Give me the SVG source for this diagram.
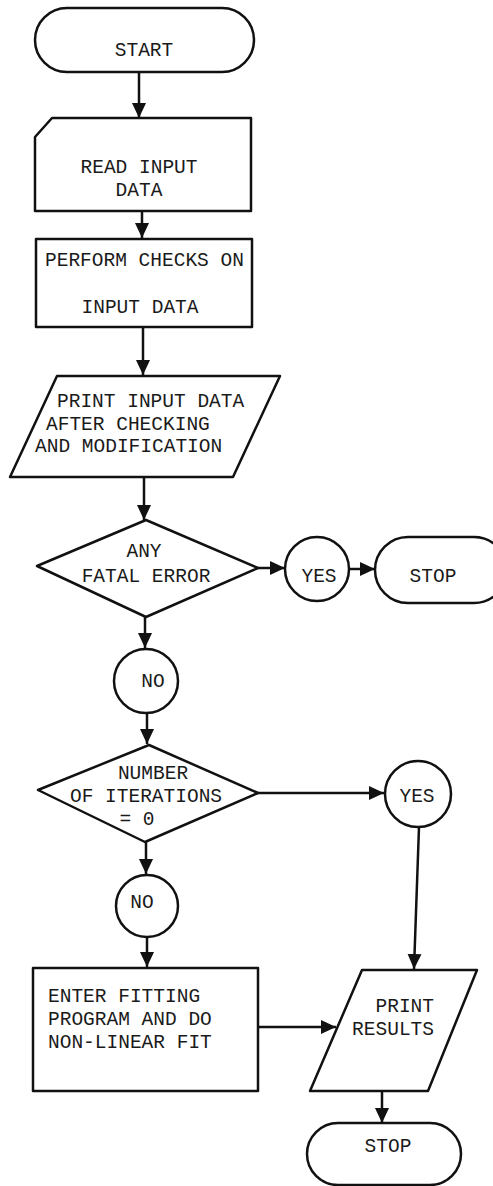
<svg xmlns="http://www.w3.org/2000/svg" width="493" height="1186" viewBox="0 0 493 1186">
<style>
.s{fill:#fff;stroke:#111;stroke-width:2.5;stroke-linejoin:round}
.c{fill:none;stroke:#111;stroke-width:2.5}
text{font-family:"Liberation Mono","Courier New",monospace;font-size:19.5px;fill:#1a1a1a}
.m{text-anchor:middle}
</style>
<defs>
<marker id="ah" viewBox="0 0 16 16" refX="15" refY="8" markerWidth="16" markerHeight="16" markerUnits="userSpaceOnUse" orient="auto">
<path d="M0,1 L15,8 L0,15 Z" fill="#111"/>
</marker>
</defs>
<rect width="493" height="1186" fill="#fff"/>
<g id="connectors">
<path class="c" d="M139,72 V118" marker-end="url(#ah)"/>
<path class="c" d="M142,211 V238" marker-end="url(#ah)"/>
<path class="c" d="M143,327 V375" marker-end="url(#ah)"/>
<path class="c" d="M144,477 V520" marker-end="url(#ah)"/>
<path class="c" d="M258,568 H285" marker-end="url(#ah)"/>
<path class="c" d="M349,569 H375" marker-end="url(#ah)"/>
<path class="c" d="M145,617 V648" marker-end="url(#ah)"/>
<path class="c" d="M147,713 V744" marker-end="url(#ah)"/>
<path class="c" d="M258,793 H384" marker-end="url(#ah)"/>
<path class="c" d="M419,827 L414,969" marker-end="url(#ah)"/>
<path class="c" d="M146,842 V874" marker-end="url(#ah)"/>
<path class="c" d="M147,937 V967" marker-end="url(#ah)"/>
<path class="c" d="M258,1027 H336" marker-end="url(#ah)"/>
<path class="c" d="M382,1092 V1123" marker-end="url(#ah)"/>
</g>
<g id="start">
<rect class="s" x="35" y="8" width="219" height="64" rx="32" ry="32"/>
<text class="m" x="144" y="56">START</text>
</g>
<g id="read-input">
<path class="s" d="M52,118 H251 V211 H35 V137 Z"/>
<text class="m" x="139" y="173">READ INPUT</text>
<text class="m" x="139" y="196">DATA</text>
</g>
<g id="perform-checks">
<rect class="s" x="36" y="239" width="216" height="88"/>
<text x="45" y="266">PERFORM CHECKS ON</text>
<text class="m" x="140" y="313">INPUT DATA</text>
</g>
<g id="print-input">
<path class="s" d="M57,376 H280 L233,477 H10 Z"/>
<text x="57" y="407">PRINT INPUT DATA</text>
<text x="46" y="430">AFTER CHECKING</text>
<text x="35" y="452">AND MODIFICATION</text>
</g>
<g id="fatal-error">
<path class="s" d="M146,520 L258,568 L146,617 L37,566 Z"/>
<text class="m" x="144" y="557">ANY</text>
<text class="m" x="146" y="582">FATAL ERROR</text>
</g>
<g id="yes1">
<circle class="s" cx="317" cy="569" r="32"/>
<text class="m" x="319" y="582">YES</text>
</g>
<g id="stop1">
<rect class="s" x="375" y="537" width="132" height="66" rx="33" ry="33"/>
<text class="m" x="433" y="582">STOP</text>
</g>
<g id="no1">
<circle class="s" cx="146" cy="681" r="32"/>
<text class="m" x="153" y="687">NO</text>
</g>
<g id="iterations">
<path class="s" d="M149,745 L258,793 L145,842 L38,790 Z"/>
<text class="m" x="153" y="779">NUMBER</text>
<text class="m" x="146" y="802">OF ITERATIONS</text>
<text class="m" x="137" y="825">= 0</text>
</g>
<g id="yes2">
<circle class="s" cx="418" cy="794" r="33"/>
<text class="m" x="417" y="802">YES</text>
</g>
<g id="no2">
<circle class="s" cx="147" cy="906" r="31"/>
<text class="m" x="142" y="908">NO</text>
</g>
<g id="fitting">
<rect class="s" x="33" y="968" width="225" height="123"/>
<text x="48" y="1002">ENTER FITTING</text>
<text x="48" y="1025">PROGRAM AND DO</text>
<text x="48" y="1048">NON-LINEAR FIT</text>
</g>
<g id="print-results">
<path class="s" d="M362,970 H477 L428,1091 H310 Z"/>
<text x="434" y="1012" text-anchor="end">PRINT</text>
<text x="434" y="1035" text-anchor="end">RESULTS</text>
</g>
<g id="stop2">
<rect class="s" x="307" y="1123" width="154" height="62" rx="31" ry="31"/>
<text class="m" x="388" y="1152">STOP</text>
</g>
</svg>
